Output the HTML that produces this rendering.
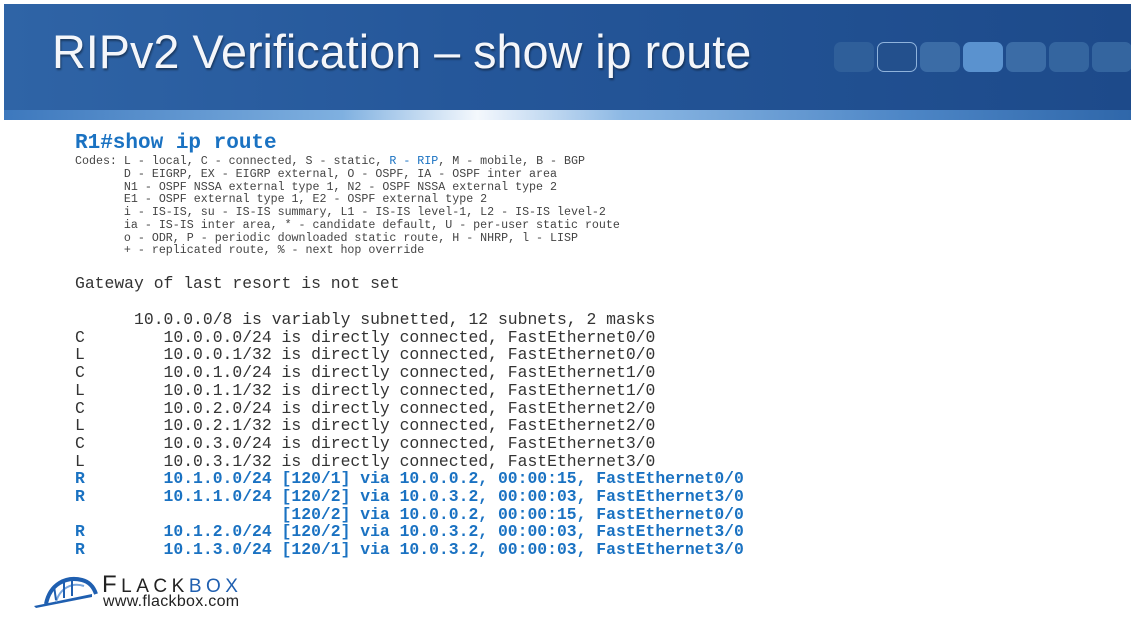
<!DOCTYPE html>
<html><head><meta charset="utf-8"><style>
body{margin:0;width:1131px;height:617px;background:#fff;position:relative;overflow:hidden;font-family:"Liberation Mono",monospace}
.hdr{position:absolute;left:4px;top:4px;width:1127px;height:106px;background:linear-gradient(90deg,#2f64a6 0%,#25579a 40%,#1d4a8a 100%)}
.strip{position:absolute;left:4px;top:110px;width:1127px;height:10px;background:linear-gradient(90deg,#3d78bd 0%,#7fb0e0 30%,#f4f8fd 42%,#8cb8e4 55%,#4d86c6 80%,#2f67aa 100%)}
.title{position:absolute;left:52px;top:24px;font-family:"Liberation Sans",sans-serif;font-size:47px;color:#f4f6fa;white-space:nowrap;transform-origin:0 0;transform:scaleX(0.995);text-shadow:1px 2px 2px rgba(0,0,0,.4)}
.sq{position:absolute;top:42px;width:40px;height:30px;border-radius:7px;background:#3c6ea8}
pre{margin:0;position:absolute;white-space:pre}
.h{left:75px;top:132px;font-size:21px;font-weight:bold;color:#1a72c2}
.c{left:75px;top:156px;font-size:11.65px;line-height:12.75px;color:#444}
.g{left:75px;top:274px;font-size:16.4px;color:#333}
.r{left:75px;top:311px;font-size:16.4px;line-height:17.7px;color:#333}
.b{color:#1a72c2;font-weight:bold}
</style></head><body>
<div class="hdr"></div><div class="strip"></div>
<div class="sq" style="left:834px;background:#2f5f9a"></div>
<div class="sq" style="left:877px;background:#23508d;border:1px solid #8fb3dc;box-sizing:border-box"></div>
<div class="sq" style="left:920px;background:#3b6ca6"></div>
<div class="sq" style="left:963px;background:#5a92cf"></div>
<div class="sq" style="left:1006px;background:#3b6ca6"></div>
<div class="sq" style="left:1049px;background:#34659f"></div>
<div class="sq" style="left:1092px;background:#34659f"></div>
<div class="title">RIPv2 Verification – show ip route</div>
<pre class="h">R1#show ip route</pre>
<pre class="c">Codes: L - local, C - connected, S - static, <span style="color:#1a72c2">R - RIP</span>, M - mobile, B - BGP
       D - EIGRP, EX - EIGRP external, O - OSPF, IA - OSPF inter area
       N1 - OSPF NSSA external type 1, N2 - OSPF NSSA external type 2
       E1 - OSPF external type 1, E2 - OSPF external type 2
       i - IS-IS, su - IS-IS summary, L1 - IS-IS level-1, L2 - IS-IS level-2
       ia - IS-IS inter area, * - candidate default, U - per-user static route
       o - ODR, P - periodic downloaded static route, H - NHRP, l - LISP
       + - replicated route, % - next hop override</pre>
<pre class="g">Gateway of last resort is not set</pre>
<pre class="r">      10.0.0.0/8 is variably subnetted, 12 subnets, 2 masks
C        10.0.0.0/24 is directly connected, FastEthernet0/0
L        10.0.0.1/32 is directly connected, FastEthernet0/0
C        10.0.1.0/24 is directly connected, FastEthernet1/0
L        10.0.1.1/32 is directly connected, FastEthernet1/0
C        10.0.2.0/24 is directly connected, FastEthernet2/0
L        10.0.2.1/32 is directly connected, FastEthernet2/0
C        10.0.3.0/24 is directly connected, FastEthernet3/0
L        10.0.3.1/32 is directly connected, FastEthernet3/0
<span class="b">R        10.1.0.0/24 [120/1] via 10.0.0.2, 00:00:15, FastEthernet0/0
R        10.1.1.0/24 [120/2] via 10.0.3.2, 00:00:03, FastEthernet3/0
                     [120/2] via 10.0.0.2, 00:00:15, FastEthernet0/0
R        10.1.2.0/24 [120/2] via 10.0.3.2, 00:00:03, FastEthernet3/0
R        10.1.3.0/24 [120/1] via 10.0.3.2, 00:00:03, FastEthernet3/0</span></pre>
<svg style="position:absolute;left:32px;top:574px" width="70" height="36" viewBox="0 0 70 36">
<path d="M2 32 L60 20 L60 23 L4 34 Z" fill="#1f5fb0"/>
<path d="M14 30 C18 10 34 2 50 6 C58 8 62 14 64 20" fill="none" stroke="#1f5fb0" stroke-width="4"/>
<path d="M24 28 C28 14 40 8 52 12" fill="none" stroke="#7aa6dc" stroke-width="2"/>
<path d="M24 26 L22 12 M32 24 L32 8 M40 22 L40 6" stroke="#1f5fb0" stroke-width="2"/>
</svg>
<div style="position:absolute;left:102px;top:571px;font-family:'Liberation Sans',sans-serif;font-size:24px;letter-spacing:4.5px;color:#222;white-space:nowrap">F<span style="font-size:19px">LACK</span><span style="color:#1f5fb0;font-size:19px">BOX</span></div>
<div style="position:absolute;left:103px;top:593px;font-family:'Liberation Sans',sans-serif;font-size:16px;letter-spacing:0.3px;color:#222;white-space:nowrap">www.flackbox.com</div>
</body></html>
